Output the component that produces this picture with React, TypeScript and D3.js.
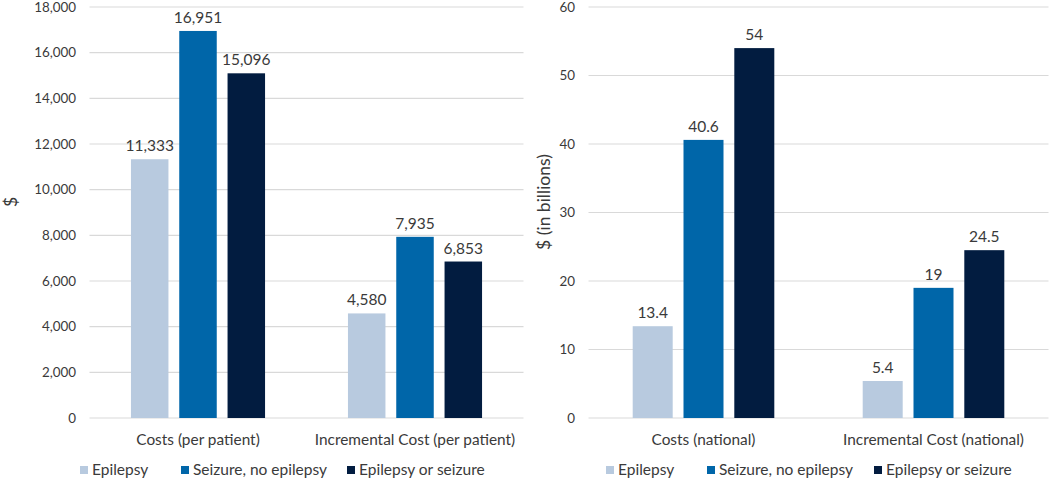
import React from "react";
import * as d3 from "d3";

const seriesNames = ["Epilepsy", "Seizure, no epilepsy", "Epilepsy or seizure"];
const seriesColors = ["#b8cadf", "#0066a9", "#021c40"];

const leftCategories = ["Costs (per patient)", "Incremental Cost (per patient)"];
const leftEpilepsy = [11333, 4580];
const leftSeizure = [16951, 7935];
const leftEither = [15096, 6853];
const leftTicks = [0, 2000, 4000, 6000, 8000, 10000, 12000, 14000, 16000, 18000];

const rightCategories = ["Costs (national)", "Incremental Cost (national)"];
const rightEpilepsy = [13.4, 5.4];
const rightSeizure = [40.6, 19];
const rightEither = [54, 24.5];
const rightTicks = [0, 10, 20, 30, 40, 50, 60];

const FONT = "Lato, 'Open Sans', sans-serif";
const TEXT = "#3a3a3a";

type PanelProps = {
  categories: string[];
  values: number[][];
  ticks: number[];
  x0: number;
  x1: number;
  barW: number;
  tickFmt: (v: number) => string;
  labelFmt: (v: number) => string;
  yTitle: string;
  yTitleX: number;
  tickX: number;
  legendX: number[];
};

function Panel(p: PanelProps) {
  const y = d3.scaleLinear().domain([0, p.ticks[p.ticks.length - 1]]).range([418, 7]);
  const x = d3.scaleBand<string>().domain(p.categories).range([p.x0, p.x1]).padding(0);
  const bw = x.bandwidth();
  const gap = 10.8;
  const groupW = p.barW * 3 + gap * 2;
  const inner = d3
    .scaleBand<number>()
    .domain([0, 1, 2])
    .range([(bw - groupW) / 2, (bw + groupW) / 2])
    .paddingInner(gap / (p.barW + gap))
    .paddingOuter(0);
  return (
    <g fontFamily={FONT}>
      {p.ticks.map((t) => (
        <g key={t}>
          <line x1={p.x0} x2={p.x1} y1={y(t)} y2={y(t)} stroke="#d9d9d9" strokeWidth={1.2} />
          <text x={p.tickX} y={y(t)} dy="0.35em" textAnchor="end" fontSize={13.4} fill={TEXT}>
            {p.tickFmt(t)}
          </text>
        </g>
      ))}
      {p.categories.map((c, ci) => (
        <g key={c} transform={`translate(${x(c)},0)`}>
          {p.values.map((vals, si) => (
            <g key={si}>
              <rect
                x={inner(si)}
                y={y(vals[ci])}
                width={inner.bandwidth()}
                height={y(0) - y(vals[ci])}
                fill={seriesColors[si]}
              />
              <text
                x={(inner(si) as number) + inner.bandwidth() / 2}
                y={y(vals[ci]) - 8}
                textAnchor="middle"
                fontSize={15.5}
                fill={TEXT}
              >
                {p.labelFmt(vals[ci])}
              </text>
            </g>
          ))}
          <text x={bw / 2} y={445} textAnchor="middle" fontSize={15.4} fill={TEXT}>
            {c}
          </text>
        </g>
      ))}
      <text
        transform={`translate(${p.yTitleX},202) rotate(-90)`}
        textAnchor="middle"
        fontSize={17.5}
        fill={TEXT}
      >
        {p.yTitle}
      </text>
      {seriesNames.map((s, i) => (
        <g key={s} transform={`translate(${p.legendX[i]},470)`}>
          <rect x={0} y={-4} width={8} height={8} fill={seriesColors[i]} />
          <text x={12} y={0} dy="0.35em" fontSize={15.5} fill={TEXT}>
            {s}
          </text>
        </g>
      ))}
    </g>
  );
}

export default function App() {
  const fmt = d3.format(",");
  return (
    <svg width={1050} height={481} style={{ position: "absolute", left: 0, top: 0, background: "#fff" }}>
      <Panel
        categories={leftCategories}
        values={[leftEpilepsy, leftSeizure, leftEither]}
        ticks={leftTicks}
        x0={89.5}
        x1={523.5}
        barW={37.5}
        tickFmt={(v) => fmt(v)}
        labelFmt={(v) => fmt(v)}
        yTitle="$"
        yTitleX={17}
        tickX={76}
        legendX={[80, 181, 347]}
      />
      <Panel
        categories={rightCategories}
        values={[rightEpilepsy, rightSeizure, rightEither]}
        ticks={rightTicks}
        x0={588.5}
        x1={1048.5}
        barW={40}
        tickFmt={(v) => String(v)}
        labelFmt={(v) => String(v)}
        yTitle="$ (in billions)"
        yTitleX={550}
        tickX={575}
        legendX={[606, 707, 874]}
      />
    </svg>
  );
}
